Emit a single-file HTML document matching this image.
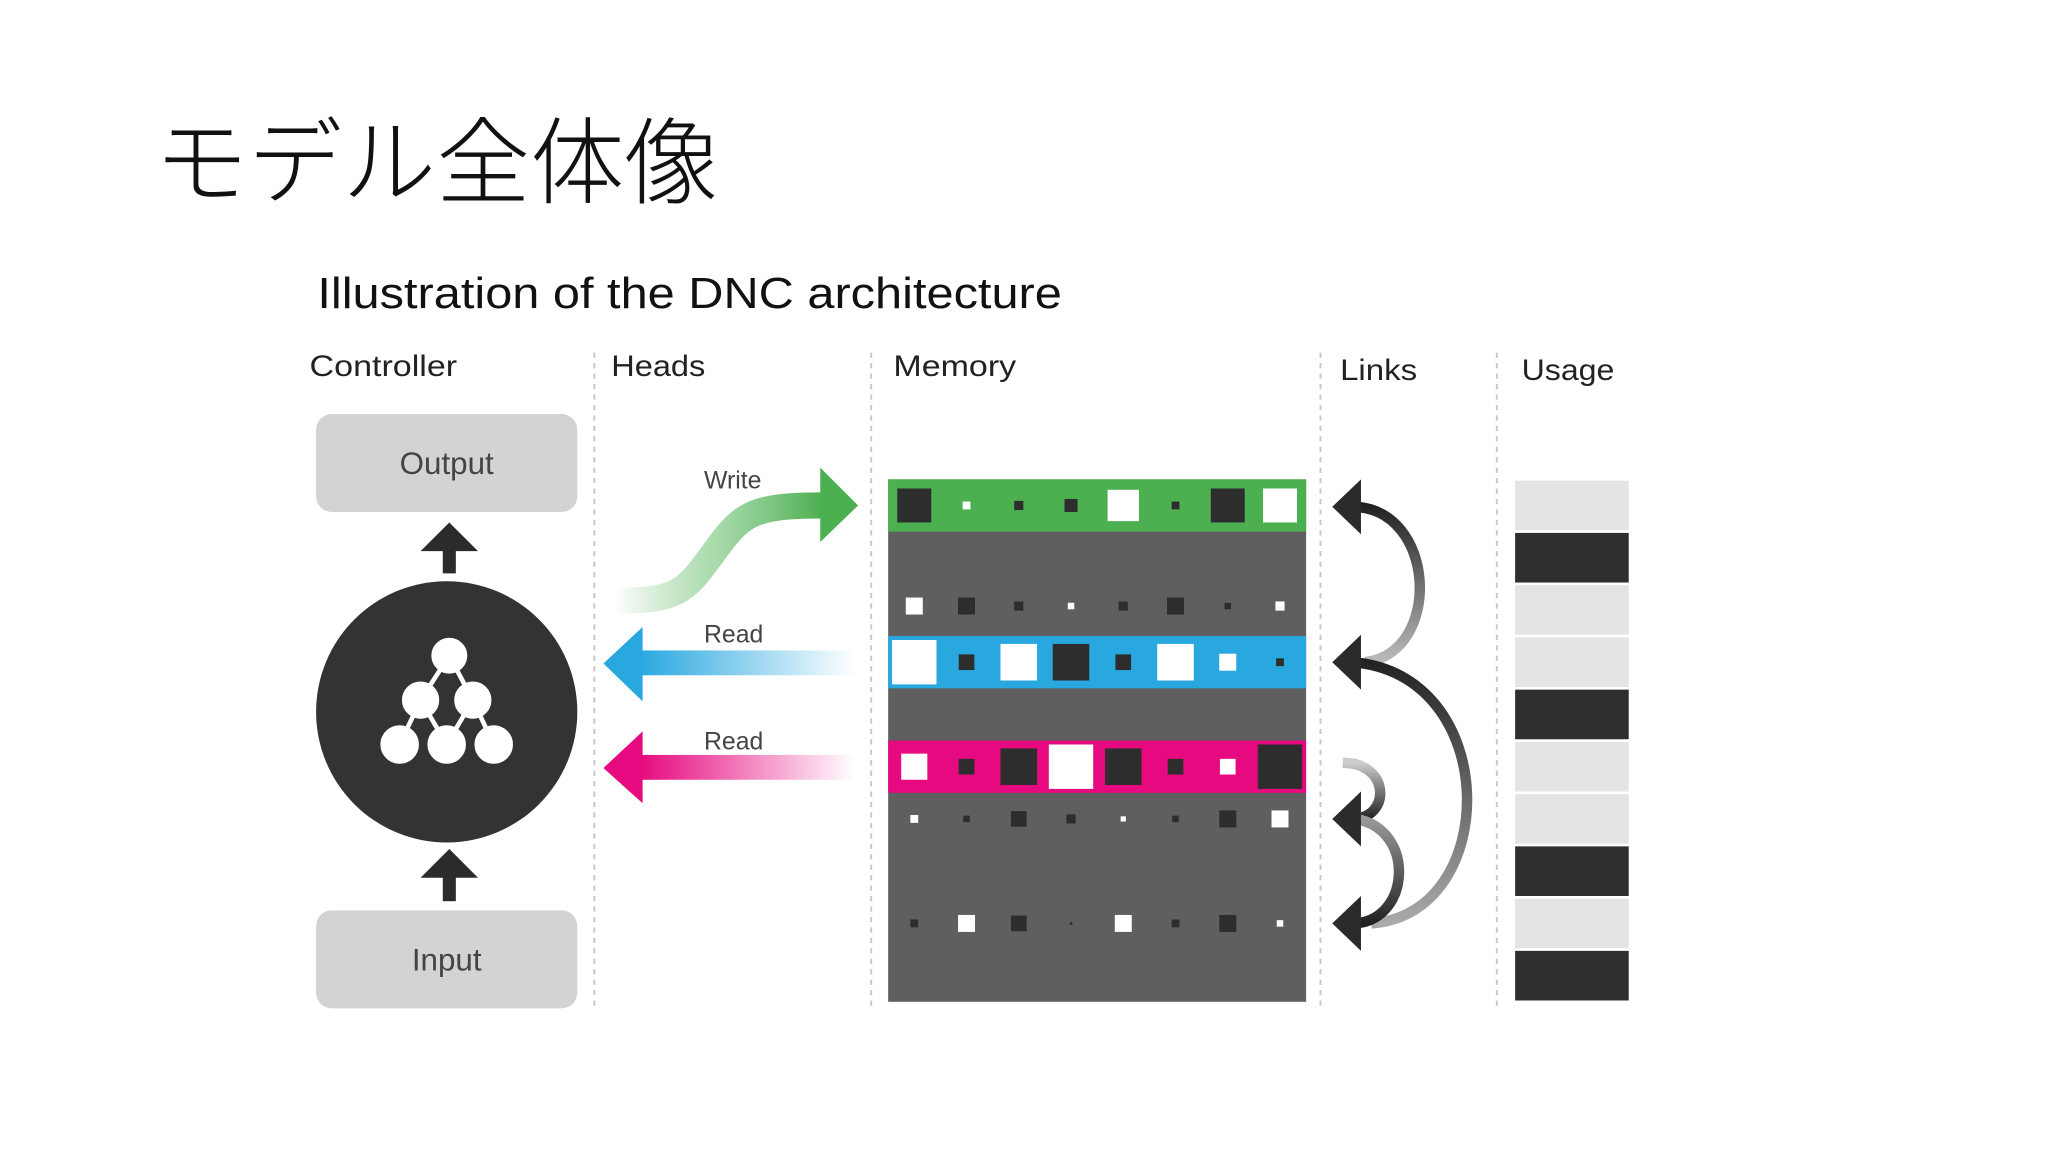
<!DOCTYPE html>
<html><head><meta charset="utf-8"><style>
html,body{margin:0;padding:0;background:#fff;}
svg{display:block;}
</style></head><body>
<svg width="2048" height="1152" viewBox="0 0 1568 882" xmlns="http://www.w3.org/2000/svg">
<defs>
<linearGradient id="gw" x1="0" y1="0" x2="1" y2="0"><stop offset="0" stop-color="#4caf50" stop-opacity="0"/><stop offset="0.5" stop-color="#6cc070" stop-opacity="0.6"/><stop offset="1" stop-color="#4caf50"/></linearGradient>
<linearGradient id="gb" x1="0" y1="0" x2="1" y2="0"><stop offset="0" stop-color="#29a8e0"/><stop offset="1" stop-color="#29a8e0" stop-opacity="0"/></linearGradient>
<linearGradient id="gp" x1="0" y1="0" x2="1" y2="0"><stop offset="0" stop-color="#e6097f"/><stop offset="1" stop-color="#e6097f" stop-opacity="0"/></linearGradient>
<linearGradient id="gl1" x1="0" y1="0" x2="0" y2="1"><stop offset="0" stop-color="#222"/><stop offset="1" stop-color="#bbb"/></linearGradient>
<linearGradient id="gl2" x1="0" y1="0" x2="0" y2="1"><stop offset="0" stop-color="#222"/><stop offset="1" stop-color="#aaa"/></linearGradient>
<linearGradient id="gl3" x1="0" y1="0" x2="0" y2="1"><stop offset="0" stop-color="#ccc"/><stop offset="1" stop-color="#222"/></linearGradient>
<linearGradient id="gl4" x1="0" y1="0" x2="0" y2="1"><stop offset="0" stop-color="#999"/><stop offset="1" stop-color="#222"/></linearGradient>
</defs>
<text x="118" y="150" textLength="432" lengthAdjust="spacingAndGlyphs" font-family="'Liberation Sans','Noto Sans CJK JP',sans-serif" font-size="72" font-weight="300" fill="#111">モデル全体像</text>
<text x="243" y="236" textLength="570" lengthAdjust="spacingAndGlyphs" font-family="'Liberation Sans',sans-serif" font-size="33" fill="#111">Illustration of the DNC architecture</text>
<g font-family="'Liberation Sans',sans-serif" font-size="23" fill="#222">
<text x="237" y="288" textLength="113" lengthAdjust="spacingAndGlyphs">Controller</text><text x="468" y="288" textLength="72" lengthAdjust="spacingAndGlyphs">Heads</text><text x="684" y="288" textLength="94" lengthAdjust="spacingAndGlyphs">Memory</text><text x="1026" y="291" textLength="59" lengthAdjust="spacingAndGlyphs">Links</text><text x="1165" y="291" textLength="71" lengthAdjust="spacingAndGlyphs">Usage</text>
</g>
<g stroke="#c8c8cc" stroke-width="1.5" stroke-dasharray="4,4">
<line x1="455" y1="270" x2="455" y2="772"/><line x1="667" y1="270" x2="667" y2="772"/><line x1="1011" y1="270" x2="1011" y2="772"/><line x1="1146" y1="270" x2="1146" y2="772"/>
</g>
<rect x="242" y="317" width="200" height="75" rx="12" fill="#d3d3d5"/>
<text x="342" y="363" text-anchor="middle" font-family="'Liberation Sans',sans-serif" font-size="24" fill="#444">Output</text>
<rect x="242" y="697" width="200" height="75" rx="12" fill="#d3d3d5"/>
<text x="342" y="743" text-anchor="middle" font-family="'Liberation Sans',sans-serif" font-size="24" fill="#444">Input</text>
<g fill="#2b2b2b">
<polygon points="344,400 366,422 322,422"/><rect x="339" y="421" width="10" height="18"/>
<polygon points="344,650 366,672 322,672"/><rect x="339" y="671" width="10" height="19"/>
</g>
<circle cx="342" cy="545" r="100" fill="#333"/>
<g stroke="#fff" stroke-width="3.5" fill="#fff">
<line x1="344" y1="502" x2="322" y2="536"/><line x1="344" y1="502" x2="362" y2="536"/>
<line x1="322" y1="536" x2="306" y2="570"/><line x1="322" y1="536" x2="342" y2="570"/>
<line x1="362" y1="536" x2="342" y2="570"/><line x1="362" y1="536" x2="378" y2="570"/>
<circle cx="344" cy="502" r="12"/><circle cx="322" cy="536" r="12.5"/><circle cx="362" cy="536" r="12.5"/>
<circle cx="306" cy="570" r="13"/><circle cx="342" cy="570" r="13"/><circle cx="378" cy="570" r="13"/>
</g>
<path d="M470,460 C520,460 525,452 545,425 C568,393 575,387 630,387" stroke="url(#gw)" stroke-width="20" fill="none"/>
<polygon points="628,358 657,387 628,415" fill="#4caf50"/>
<rect x="490" y="498" width="165" height="19" fill="url(#gb)"/>
<polygon points="492,480 462,508 492,537" fill="#29a8e0"/>
<rect x="490" y="578" width="165" height="19" fill="url(#gp)"/>
<polygon points="492,560 462,588 492,615" fill="#e6097f"/>
<g font-family="'Liberation Sans',sans-serif" font-size="19" fill="#444">
<text x="539" y="374">Write</text><text x="539" y="492">Read</text><text x="539" y="574">Read</text>
</g>
<rect x="680" y="367" width="320" height="400" fill="#5f5f60"/>
<rect x="680" y="367" width="320" height="40" fill="#4cb051"/>
<rect x="680" y="487" width="320" height="40" fill="#29a8e0"/>
<rect x="680" y="567" width="320" height="40" fill="#e6097f"/>
<g>
<rect x="687" y="374" width="26" height="26" fill="#2d2d2d"/><rect x="737" y="384" width="6" height="6" fill="#fff"/><rect x="776.5" y="383.5" width="7" height="7" fill="#2d2d2d"/><rect x="815" y="382" width="10" height="10" fill="#2d2d2d"/><rect x="848" y="375" width="24" height="24" fill="#fff"/><rect x="897" y="384" width="6" height="6" fill="#2d2d2d"/><rect x="927" y="374" width="26" height="26" fill="#2d2d2d"/><rect x="967" y="374" width="26" height="26" fill="#fff"/>
<rect x="693.5" y="457.5" width="13" height="13" fill="#fff"/><rect x="733.5" y="457.5" width="13" height="13" fill="#2d2d2d"/><rect x="776.5" y="460.5" width="7" height="7" fill="#2d2d2d"/><rect x="817.5" y="461.5" width="5" height="5" fill="#fff"/><rect x="856.5" y="460.5" width="7" height="7" fill="#2d2d2d"/><rect x="893.5" y="457.5" width="13" height="13" fill="#2d2d2d"/><rect x="937.5" y="461.5" width="5" height="5" fill="#2d2d2d"/><rect x="976.5" y="460.5" width="7" height="7" fill="#fff"/>
<rect x="683" y="490" width="34" height="34" fill="#fff"/><rect x="734" y="501" width="12" height="12" fill="#2d2d2d"/><rect x="766" y="493" width="28" height="28" fill="#fff"/><rect x="806" y="493" width="28" height="28" fill="#2d2d2d"/><rect x="854" y="501" width="12" height="12" fill="#2d2d2d"/><rect x="886" y="493" width="28" height="28" fill="#fff"/><rect x="933.5" y="500.5" width="13" height="13" fill="#fff"/><rect x="977" y="504" width="6" height="6" fill="#2d2d2d"/>
<rect x="690" y="577" width="20" height="20" fill="#fff"/><rect x="734" y="581" width="12" height="12" fill="#2d2d2d"/><rect x="766" y="573" width="28" height="28" fill="#2d2d2d"/><rect x="803" y="570" width="34" height="34" fill="#fff"/><rect x="846" y="573" width="28" height="28" fill="#2d2d2d"/><rect x="894" y="581" width="12" height="12" fill="#2d2d2d"/><rect x="934" y="581" width="12" height="12" fill="#fff"/><rect x="963" y="570" width="34" height="34" fill="#2d2d2d"/>
<rect x="697" y="624" width="6" height="6" fill="#fff"/><rect x="737.5" y="624.5" width="5" height="5" fill="#2d2d2d"/><rect x="774" y="621" width="12" height="12" fill="#2d2d2d"/><rect x="816.5" y="623.5" width="7" height="7" fill="#2d2d2d"/><rect x="858" y="625" width="4" height="4" fill="#fff"/><rect x="897.5" y="624.5" width="5" height="5" fill="#2d2d2d"/><rect x="933.5" y="620.5" width="13" height="13" fill="#2d2d2d"/><rect x="973.5" y="620.5" width="13" height="13" fill="#fff"/>
<rect x="697" y="704" width="6" height="6" fill="#2d2d2d"/><rect x="733.5" y="700.5" width="13" height="13" fill="#fff"/><rect x="774" y="701" width="12" height="12" fill="#2d2d2d"/><rect x="819" y="706" width="2" height="2" fill="#2d2d2d"/><rect x="853.5" y="700.5" width="13" height="13" fill="#fff"/><rect x="897" y="704" width="6" height="6" fill="#2d2d2d"/><rect x="933.5" y="700.5" width="13" height="13" fill="#2d2d2d"/><rect x="977.5" y="704.5" width="5" height="5" fill="#fff"/>
</g>
<g fill="none" stroke-width="8">
<path d="M1035,388 C1100,388 1105,500 1045,507" stroke="url(#gl1)"/>
<path d="M1035,507 C1150,515 1150,700 1050,707" stroke="url(#gl2)"/>
<path d="M1028,584 C1065,584 1065,627 1035,627" stroke="url(#gl3)"/>
<path d="M1038,627 C1085,635 1080,707 1035,707" stroke="url(#gl4)"/>
</g>
<g fill="#2b2b2b">
<polygon points="1020,388 1042,367 1042,409"/>
<polygon points="1020,507 1042,486 1042,528"/>
<polygon points="1020,627 1042,606 1042,648"/>
<polygon points="1020,707 1042,686 1042,728"/>
</g>
<g>
<rect x="1160" y="368" width="87" height="38" fill="#e4e4e6"/>
<rect x="1160" y="408" width="87" height="38" fill="#2f2f2f"/>
<rect x="1160" y="448" width="87" height="38" fill="#e4e4e6"/>
<rect x="1160" y="488" width="87" height="38" fill="#e4e4e6"/>
<rect x="1160" y="528" width="87" height="38" fill="#2f2f2f"/>
<rect x="1160" y="568" width="87" height="38" fill="#e4e4e6"/>
<rect x="1160" y="608" width="87" height="38" fill="#e4e4e6"/>
<rect x="1160" y="648" width="87" height="38" fill="#2f2f2f"/>
<rect x="1160" y="688" width="87" height="38" fill="#e4e4e6"/>
<rect x="1160" y="728" width="87" height="38" fill="#2f2f2f"/>
</g>
</svg>
</body></html>
